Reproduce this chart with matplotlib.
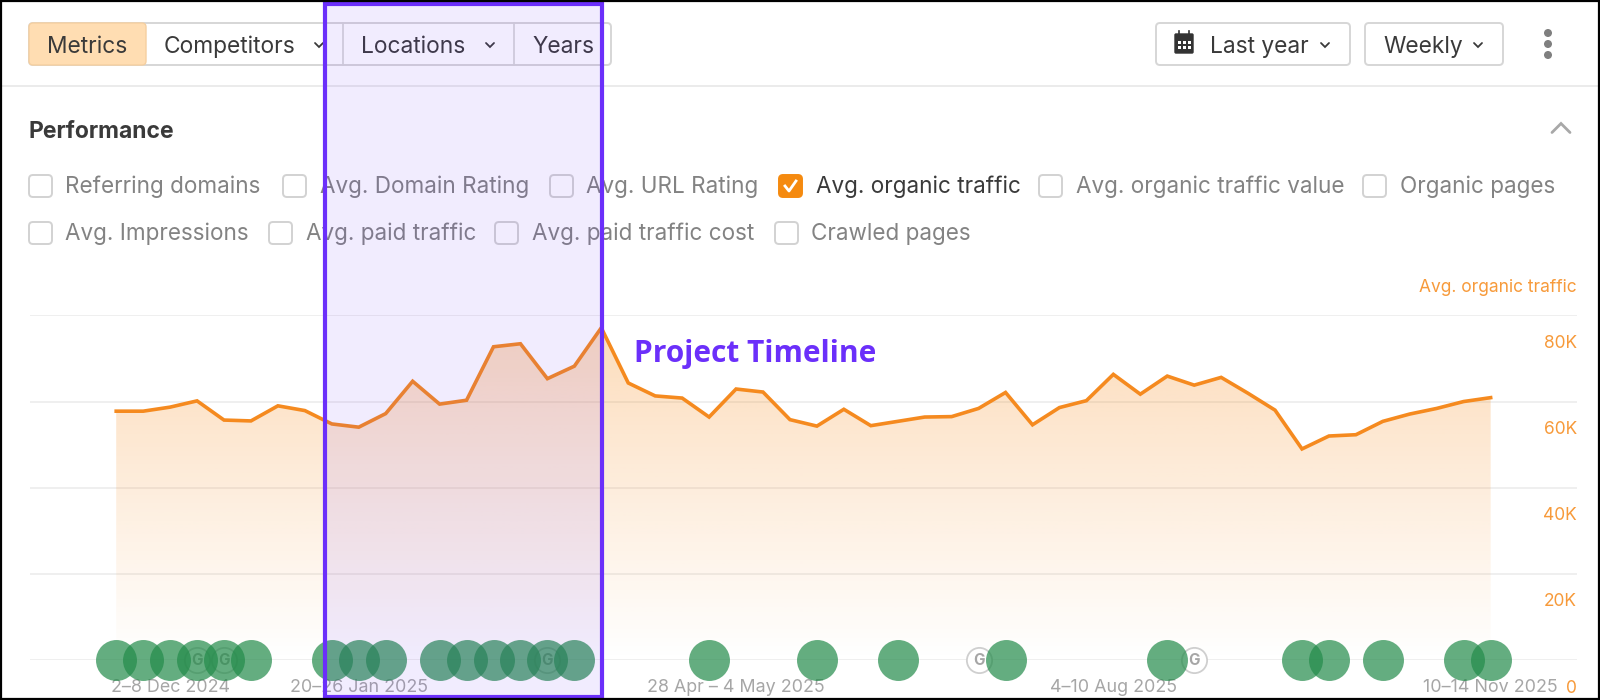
import numpy as np
import matplotlib
matplotlib.use('Agg')
import matplotlib.pyplot as plt
from matplotlib.patches import Rectangle, FancyBboxPatch, Circle
from matplotlib.transforms import ScaledTranslation

# weekly average organic traffic
traffic = [57760, 57760, 58700, 60150, 55700, 55500, 59000, 57900, 54800, 54050,
           57200, 64700, 59400, 60300, 72700, 73400, 65300, 68200, 77100, 64300,
           61300, 60800, 56400, 62900, 62200, 55800, 54300, 58200, 54400, 55400,
           56400, 56500, 58400, 62100, 54600, 58600, 60200, 66300, 61700, 65900,
           63800, 65600, 61900, 58000, 49000, 52000, 52300, 55400, 57100, 58400,
           60000, 60900]
week_index = list(range(len(traffic)))

green_events = [0, 1, 2, 3, 4, 5, 8, 9, 10, 12, 13, 14, 15, 16, 17,
                22, 26, 29, 33, 39, 44, 45, 47, 50, 51]
google_events = [3, 4, 16, 32, 40]

y_ticks = [0, 20000, 40000, 60000, 80000]
y_labels = ['0', '20K', '40K', '60K', '80K']
x_ticks = [2, 9, 23, 37, 51]
x_labels = ['2–8 Dec 2024', '20–26 Jan 2025', '28 Apr – 4 May 2025', '4–10 Aug 2025', '10–14 Nov 2025']

row1_boxes = [29, 283, 550, 779, 1039, 1363]
row1_text = [65, 320, 586, 816, 1076, 1400]
row1_labels = ['Referring domains', 'Avg. Domain Rating', 'Avg. URL Rating',
               'Avg. organic traffic', 'Avg. organic traffic value', 'Organic pages']
row2_boxes = [29, 269, 495, 775]
row2_text = [65, 306, 532, 811]
row2_labels = ['Avg. Impressions', 'Avg. paid traffic', 'Avg. paid traffic cost', 'Crawled pages']

ORANGE = '#F58A1F'
ORANGE_TEXT = '#F79A3A'
PURPLE = '#6B2FFA'
GREEN = '#238B4A'
DARK = '#3A3A3A'
GRAY = '#838383'
BORDER = '#D6D6D6'

plt.rcParams['font.family'] = ['Inter', 'DejaVu Sans']

fig = plt.figure(figsize=(16, 7), dpi=100, facecolor='white')


def px_axes(zorder):
    # full figure axes that works in image pixels
    a = fig.add_axes([0, 0, 1, 1], zorder=zorder)
    a.set_xlim(0, 1600)
    a.set_ylim(700, 0)
    a.axis('off')
    a.patch.set_alpha(0)
    return a


def round_box(a, x0, y0, x1, y1, face='white', edge=BORDER, lw=1.4, r=4):
    a.add_patch(FancyBboxPatch((x0 + r, y0 + r), x1 - x0 - 2 * r, y1 - y0 - 2 * r,
                               boxstyle=f'round,pad={r},rounding_size={r}',
                               facecolor=face, edgecolor=edge, linewidth=lw))


def chevron(a, x, y, size=4, up=False, color=DARK, lw=1.3):
    d = -size if up else size
    a.plot([x - size, x, x + size], [y - d / 2, y + d / 2, y - d / 2], color=color, lw=lw,
           solid_capstyle='round', solid_joinstyle='miter')


# toolbar and checkboxes
ui = px_axes(1)
round_box(ui, 29, 23, 611, 65)
ui.add_patch(FancyBboxPatch((33, 27), 109, 34, boxstyle='round,pad=4,rounding_size=4',
                            facecolor='#FFDDB2', edgecolor='#F5CFA0', linewidth=1))
for x in [343, 514]:
    ui.plot([x, x], [23, 65], color=BORDER, lw=1.2)
for x, s in [(47, 'Metrics'), (164, 'Competitors'), (361, 'Locations'), (532, 'Years')]:
    ui.text(x, 47, s, fontsize=16.4, color=DARK, va='center')
chevron(ui, 319, 45)
chevron(ui, 490, 45)

round_box(ui, 1156, 23, 1350, 65)
round_box(ui, 1365, 23, 1503, 65)
ui.add_patch(FancyBboxPatch((1176, 35), 16, 17, boxstyle='round,pad=1,rounding_size=1',
                            facecolor='#333333', edgecolor='#333333', linewidth=1))
for gx in [1179, 1189]:
    ui.plot([gx, gx], [31, 35], color='#333333', lw=1.2)
for gx in [1179, 1184, 1189]:
    for gy in [42, 47]:
        ui.add_patch(Rectangle((gx - 1.5, gy - 1.5), 3, 3, facecolor='white', edgecolor='none'))
ui.text(1210, 47, 'Last year', fontsize=16.4, color=DARK, va='center')
chevron(ui, 1325, 45)
ui.text(1383, 47, 'Weekly', fontsize=16.4, color=DARK, va='center')
chevron(ui, 1478, 45)
for y in [33, 44, 55]:
    ui.add_patch(Circle((1548, y), 4, facecolor='#7F7F7F', edgecolor='none'))

ui.plot([0, 1600], [86, 86], color='#EBEBEB', lw=1.4)
ui.text(29, 132, 'Performance', fontsize=16.5, fontweight='bold', color=DARK, va='center')
chevron(ui, 1561, 128, size=9, up=True, color='#A8A8A8', lw=2)


def check_row(y, boxes, starts, labels, checked=None):
    for b, t, s in zip(boxes, starts, labels):
        if s == checked:
            round_box(ui, b, y - 11, b + 23, y + 11, face='#F58A0F', edge='#F58A0F')
            ui.plot([b + 6, b + 10, b + 17], [y, y + 5, y - 5], color='white', lw=2)
            ui.text(t, y + 1, s, fontsize=16.2, color=DARK, va='center')
        else:
            round_box(ui, b, y - 11, b + 23, y + 11, edge='#D2D2D2')
            ui.text(t, y + 1, s, fontsize=16.2, color=GRAY, va='center')


check_row(186, row1_boxes, row1_text, row1_labels, checked='Avg. organic traffic')
check_row(233, row2_boxes, row2_text, row2_labels)
ui.text(1577, 288, 'Avg. organic traffic', fontsize=12.5, color=ORANGE_TEXT, ha='right', va='center')

# chart, its x limits put week 0 at pixel 116.2 with 26.95 px per week
left_px, right_px, top_px, bottom_px = 30, 1577, 315.3, 660.2
x_low = (left_px - 116.2) / 26.95
x_high = (right_px - 116.2) / 26.95
ax = fig.add_axes([left_px / 1600, 1 - bottom_px / 700, (right_px - left_px) / 1600,
                   (bottom_px - top_px) / 700], zorder=2)
ax.patch.set_alpha(0)
ax.set_axisbelow(True)

# fill fades out towards the baseline
grad = np.zeros((256, 2, 4))
grad[..., :3] = matplotlib.colors.to_rgb('#F78C1E')
grad[..., 3] = np.linspace(0.3, 0, 256)[:, None]
poly = ax.fill_between(week_index, traffic, 0, facecolor='none', edgecolor='none')
img = ax.imshow(grad, extent=[week_index[0], week_index[-1], 0, max(traffic)], aspect='auto', zorder=2, origin='upper')
img.set_clip_path(poly.get_paths()[0], transform=ax.transData)
ax.set_xlim(x_low, x_high)
ax.set_ylim(0, 80000)

ax.plot(week_index, traffic, color=ORANGE, lw=2.6, zorder=3, solid_joinstyle='miter')

ax.scatter(google_events, [0] * len(google_events), s=330, facecolor='white', edgecolor='#CFCFCF',
           linewidth=1.3, zorder=4, clip_on=False)
for g in google_events:
    ax.text(g, 0, 'G', fontsize=11, fontweight='bold', color='#A6A6A6', ha='center', va='center', zorder=4, clip_on=False)
ax.scatter(green_events, [0] * len(green_events), s=870, color=GREEN, alpha=0.7, linewidth=0, zorder=5, clip_on=False)

ax.set_yticks(y_ticks, y_labels)
ax.set_xticks(x_ticks, x_labels)
ax.yaxis.tick_right()
ax.grid(axis='y', color='#ECECEC', lw=1.2)
ax.tick_params(axis='y', length=0, pad=0, labelsize=12.5, labelcolor=ORANGE_TEXT)
ax.tick_params(axis='x', length=0, pad=13.5, labelsize=12.9, labelcolor='#A6A6A6')
shift = ScaledTranslation(0, -28 / 100, fig.dpi_scale_trans)
for lab in ax.get_yticklabels():
    lab.set_horizontalalignment('right')
    lab.set_verticalalignment('center')
    lab.set_transform(lab.get_transform() + shift)
for side in ax.spines.values():
    side.set_visible(False)

# project timeline highlight on top of everything
top = px_axes(3)
top.add_patch(Rectangle((325, 4), 277, 693, facecolor=PURPLE, alpha=0.09, edgecolor='none'))
top.add_patch(Rectangle((325, 4), 277, 693, facecolor='none', edgecolor=PURPLE, linewidth=3))
top.text(634, 354, 'Project Timeline', fontsize=21.5, fontweight='bold', color=PURPLE, va='center',
         family=['Open Sans', 'DejaVu Sans'])
top.add_patch(Rectangle((1, 1), 1598, 698, facecolor='none', edgecolor='black', linewidth=1.6))

fig.savefig('out.png', dpi=100)
